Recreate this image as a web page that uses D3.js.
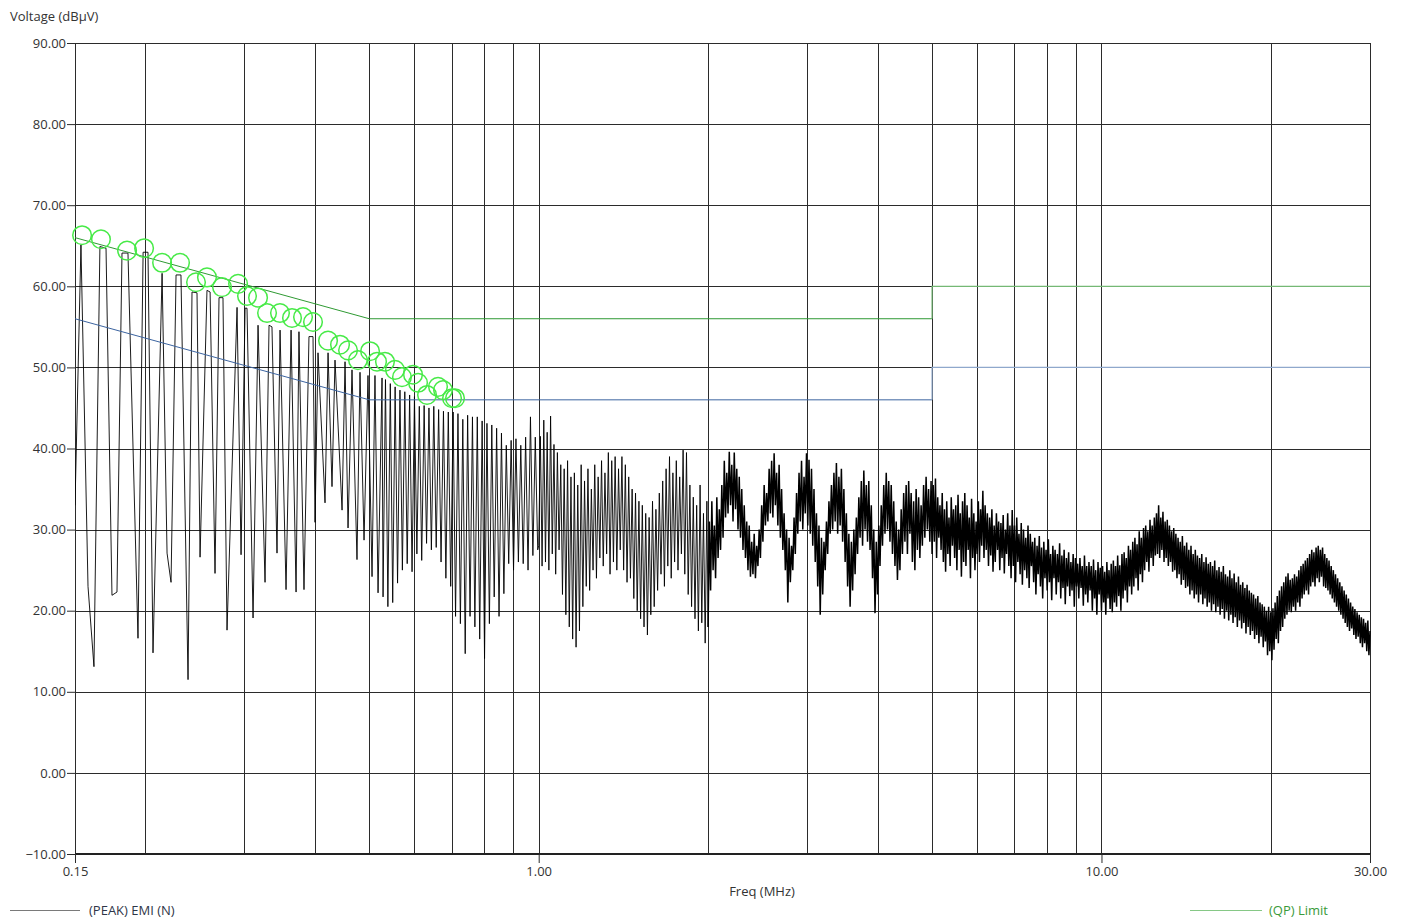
<!DOCTYPE html>
<html>
<head>
<meta charset="utf-8">
<script src="https://cdn.jsdelivr.net/npm/d3@7"></script>
<style>
  html, body { margin: 0; padding: 0; background: #fff; }
  svg { display: block; font-family: "Open Sans", "Noto Sans", sans-serif; }
</style>
</head>
<body>
<svg id="chart" width="1403" height="921"></svg>
<script>
// ---------- axis definitions ----------
const freqDomain = [0.15, 30];              // MHz
const levelDomain = [-10, 90];              // dBµV
const levelTicks = [-10, 0, 10, 20, 30, 40, 50, 60, 70, 80, 90];
const freqLabelTicks = [0.15, 1, 10, 30];
const freqGridLines = [0.2, 0.3, 0.4, 0.5, 0.6, 0.7, 0.8, 0.9, 1, 2, 3, 4, 5, 6, 7, 8, 9, 10, 20, 30];

// ---------- limit lines (CISPR class B, conducted) ----------
const limitFreqs   = [0.15, 0.5, 5, 5, 30];
const qpLimitLevels = [66, 56, 56, 60, 60];
const avLimitLevels = [56, 46, 46, 50, 50];

// ---------- quasi-peak measurement markers ----------
const qpFreqs = [0.1544, 0.1668, 0.1856, 0.1990, 0.2142, 0.2305, 0.2461, 0.2574, 0.2737, 0.2923,
                 0.3032, 0.3172, 0.3291, 0.3470, 0.3645, 0.3813, 0.3972, 0.4224, 0.4436, 0.4584,
                 0.4774, 0.5016, 0.5161, 0.5332, 0.5555, 0.5716, 0.5980, 0.6104, 0.6333, 0.6624,
                 0.6761, 0.7015, 0.7101];
const qpLevels = [66.3, 65.8, 64.4, 64.7, 62.9, 62.9, 60.5, 61.1, 59.9, 60.3,
                  58.8, 58.6, 56.7, 56.7, 56.1, 56.2, 55.6, 53.3, 52.8, 52.1,
                  50.9, 52.0, 50.7, 50.7, 49.7, 48.8, 49.1, 48.1, 46.6, 47.6,
                  47.2, 46.2, 46.2];

// ---------- peak EMI trace ----------
// Low band: individual switching harmonics (frequency / level pairs)
const harmonicFreqs = [0.1500, 0.1537, 0.1582, 0.1621, 0.1661, 0.1703, 0.1745, 0.1781, 0.1818, 0.1863,
                       0.1941, 0.1982, 0.2022, 0.2064, 0.2142, 0.2186, 0.2222, 0.2268, 0.2314, 0.2382,
                       0.2421, 0.2471, 0.2502, 0.2574, 0.2607, 0.2660, 0.2704, 0.2748, 0.2794, 0.2911,
                       0.2959, 0.3008, 0.3032, 0.3108, 0.3172, 0.3264, 0.3318, 0.3358, 0.3428, 0.3471,
                       0.3557, 0.3631, 0.3706, 0.3750, 0.3828, 0.3907, 0.3972, 0.4005, 0.4054, 0.4172,
                       0.4224, 0.4293, 0.4346, 0.4473, 0.4528, 0.4584, 0.4659, 0.4755, 0.4814, 0.4894,
                       0.4974, 0.5057, 0.5118, 0.5183, 0.5268];
const harmonicLevels = [33.0, 65.1, 23.0, 13.1, 64.9, 64.7, 21.9, 22.3, 64.1, 64.1,
                        16.6, 64.2, 64.2, 14.8, 61.6, 27.1, 23.5, 61.4, 61.4, 11.5,
                        59.3, 59.2, 26.6, 59.5, 59.3, 24.6, 58.6, 58.6, 17.6, 57.4,
                        26.9, 57.3, 57.3, 19.1, 55.2, 23.5, 55.2, 55.0, 27.1, 54.6,
                        22.6, 54.6, 22.3, 54.4, 22.6, 53.8, 53.8, 30.9, 51.8, 33.3,
                        51.8, 35.3, 50.9, 32.4, 50.7, 30.2, 49.7, 26.3, 49.4, 28.7,
                        49.0, 24.2, 49.0, 22.2, 48.7];

// Swept sections: start/stop frequency (MHz) and the levels recorded across each sweep
const sweep1Range = [0.529, 0.996];
const sweep1Levels = [
  21.7, 48.5, 20.5, 48.0, 21.0, 47.6, 23.4, 47.2, 25.0, 47.0,
  25.8, 46.6, 24.8, 46.4, 27.0, 45.2, 26.2, 45.3, 28.3, 45.0,
  27.5, 45.2, 27.8, 44.8, 26.0, 44.6, 24.0, 44.5, 23.0, 44.5,
  19.3, 44.3, 18.4, 43.6, 14.7, 44.1, 19.3, 43.9, 18.0, 43.9,
  16.5, 43.4, 14.1, 43.1, 18.4, 42.9, 21.7, 42.5, 19.3, 41.9,
  22.1, 40.4, 25.8, 41.0, 25.0, 41.2, 26.0, 40.4, 25.8, 41.4,
  25.0, 43.9, 26.8, 41.4, 27.5];

const sweep2Range = [1.0, 1.99];
const sweep2Levels = [
  28.0, 41.5, 25.5, 43.5, 26.0, 42.0, 25.0, 44.0, 27.0, 40.5,
  24.5, 39.5, 27.5, 38.0, 22.0, 37.5, 19.5, 38.5, 18.0, 36.5,
  16.5, 37.0, 15.5, 35.5, 17.5, 38.0, 20.5, 36.0, 23.0, 37.5,
  22.5, 35.0, 25.0, 38.0, 24.0, 36.5, 26.5, 38.5, 25.5, 37.0,
  27.0, 39.5, 24.5, 38.5, 26.0, 39.0, 25.0, 37.5, 27.5, 39.0,
  25.0, 38.0, 23.5, 36.5, 24.0, 35.0, 21.5, 34.5, 20.0, 33.5,
  19.0, 33.0, 18.0, 32.0, 17.0, 31.5, 19.5, 33.5, 20.5, 32.5,
  22.5, 34.5, 24.5, 36.0, 23.0, 37.5, 25.5, 39.0, 24.0, 37.0,
  26.0, 38.5, 25.0, 36.5, 27.0, 39.8, 24.5, 39.5, 22.0, 35.5,
  20.5, 34.0, 19.0, 33.0, 17.5, 35.5, 18.5, 32.0, 16.0, 33.5];

const sweep3Range = [2.0, 4.98];
const sweep3Levels = [
  18.0, 31.0, 22.5, 33.5, 25.0, 30.5, 24.0, 34.0, 26.5, 32.5,
  27.5, 35.5, 29.0, 38.5, 31.5, 37.0, 32.0, 39.6, 33.0, 38.0,
  31.0, 39.5, 32.5, 37.5, 30.0, 36.5, 29.0, 35.0, 27.5, 33.0,
  26.5, 31.0, 25.0, 30.5, 24.2, 28.5, 24.5, 29.5, 24.0, 28.0,
  25.5, 30.0, 26.5, 33.0, 28.5, 35.5, 30.5, 34.5, 31.0, 37.5,
  32.0, 38.5, 31.5, 39.4, 33.0, 37.0, 30.5, 38.0, 29.0, 35.0,
  27.5, 32.0, 25.0, 30.0, 21.0, 29.0, 23.5, 28.0, 25.0, 31.5,
  27.0, 34.5, 29.5, 37.0, 31.0, 38.5, 30.0, 36.5, 32.0, 39.4,
  30.5, 38.6, 29.5, 37.5, 28.0, 35.0, 26.0, 32.0, 23.0, 30.5,
  19.5, 29.0, 22.0, 28.5, 25.0, 31.0, 27.0, 33.5, 29.5, 35.5,
  30.0, 37.0, 31.0, 38.2, 29.5, 36.5, 30.5, 37.5, 28.5, 35.0,
  26.0, 32.0, 23.0, 29.5, 20.5, 28.5, 22.5, 30.0, 24.5, 31.5,
  27.0, 34.0, 29.0, 36.0, 28.0, 37.3, 30.0, 35.5, 28.5, 36.0,
  27.5, 33.0, 24.0, 30.0, 19.7, 28.5, 22.0, 30.5, 25.5, 33.0,
  28.0, 35.5, 29.5, 37.0, 30.0, 36.0, 28.5, 35.5, 27.0, 33.5,
  25.5, 31.0, 23.8, 30.0, 25.0, 32.5, 27.0, 34.5, 28.5, 35.5,
  27.0, 36.0, 29.5, 34.5, 26.0, 33.5, 25.0, 35.0, 27.5, 34.0,
  26.5, 33.0, 28.0, 35.5, 29.0, 36.5, 30.0, 35.0, 28.5, 36.0];

const sweep4Range = [5.0, 9.95];
const sweep4Levels = [
  27.0, 35.5, 28.5, 36.3, 26.5, 34.0, 29.0, 33.0, 27.5, 34.5,
  26.0, 32.5, 24.8, 33.5, 27.0, 31.5, 25.5, 34.0, 28.0, 32.5,
  26.5, 33.0, 25.0, 34.3, 27.5, 32.0, 24.2, 33.5, 26.0, 34.5,
  25.5, 33.0, 27.5, 31.5, 24.0, 33.8, 26.5, 32.0, 25.0, 31.0,
  27.0, 33.5, 26.0, 32.5, 28.0, 34.8, 26.5, 33.0, 27.5, 32.0,
  25.5, 31.5, 26.8, 32.5, 24.8, 30.5, 26.0, 32.0, 27.5, 31.0,
  25.0, 30.8, 26.5, 31.8, 24.6, 30.0, 27.0, 32.0, 25.5, 30.5,
  24.0, 32.4, 25.5, 30.5, 23.5, 31.5, 26.0, 29.5, 24.5, 30.8,
  23.2, 30.0, 25.0, 29.0, 24.0, 30.5, 22.8, 29.5, 25.5, 28.5,
  23.5, 29.0, 22.0, 28.0, 24.5, 29.2, 23.0, 27.8, 21.5, 28.5,
  24.0, 27.5, 22.5, 28.8, 23.5, 27.0, 21.3, 28.0, 24.0, 27.5,
  22.0, 27.0, 23.5, 28.3, 21.5, 26.8, 22.8, 27.5, 20.8, 26.5,
  23.0, 27.2, 21.8, 26.0, 22.5, 27.0, 20.5, 26.5, 23.0, 25.8,
  21.5, 26.5, 22.8, 25.5, 20.6, 26.8, 22.0, 25.5, 21.0, 26.0,
  22.5, 25.5, 20.0, 26.3, 21.5, 25.0, 19.5, 26.0, 22.0, 25.3];

const sweep5Range = [10.0, 30.0];
const sweep5Levels = [
  20.0, 25.5, 21.0, 24.8, 19.5, 26.0, 21.5, 25.0, 20.2, 25.8,
  19.8, 26.2, 21.0, 25.5, 20.5, 26.8, 21.8, 25.6, 20.0, 27.0,
  21.5, 27.2, 22.5, 26.5, 21.0, 28.0, 23.0, 27.5, 22.0, 28.5,
  23.0, 29.0, 24.0, 28.2, 22.5, 29.8, 24.5, 29.0, 23.5, 30.2,
  25.0, 30.5, 26.0, 29.8, 24.8, 31.2, 26.5, 30.5, 25.5, 31.5,
  26.8, 32.0, 27.0, 33.0, 26.5, 31.5, 27.5, 32.2, 26.0, 31.0,
  26.5, 31.2, 25.5, 30.5, 26.0, 29.8, 24.8, 30.2, 25.0, 29.5,
  24.0, 29.0, 24.5, 28.5, 23.2, 29.2, 23.8, 28.0, 22.8, 28.4,
  23.0, 27.5, 22.0, 28.0, 22.5, 27.0, 21.5, 27.5, 22.0, 26.8,
  21.0, 26.5, 22.0, 27.0, 20.8, 26.0, 21.5, 26.6, 20.5, 25.8,
  21.0, 26.0, 20.0, 25.5, 20.8, 26.2, 19.8, 25.0, 20.5, 25.4,
  19.5, 24.8, 20.2, 25.5, 19.0, 24.5, 20.0, 24.2, 18.8, 25.0,
  19.5, 24.0, 18.5, 24.6, 19.2, 23.5, 18.0, 24.2, 18.8, 23.2,
  17.8, 23.5, 18.5, 22.8, 17.2, 23.2, 18.0, 22.5, 17.0, 22.2,
  17.5, 22.0, 16.5, 21.5, 17.0, 21.8, 16.0, 21.0, 16.8, 20.8,
  15.5, 20.5, 16.2, 20.0, 14.5, 20.5, 15.0, 19.8, 13.9, 20.3,
  15.2, 21.0, 16.5, 21.8, 16.0, 22.5, 17.5, 23.0, 18.0, 23.5,
  19.0, 24.2, 19.5, 24.6, 20.0, 23.8, 19.8, 24.0, 20.5, 24.5,
  20.0, 24.2, 21.0, 25.0, 20.5, 25.5, 21.5, 25.8, 22.0, 26.2,
  22.5, 26.5, 22.0, 27.0, 23.0, 27.5, 23.5, 27.2, 23.0, 27.8,
  24.0, 28.0, 23.5, 27.5, 24.2, 27.8, 23.0, 27.0, 22.8, 26.5,
  22.5, 26.2, 22.0, 25.5, 21.5, 25.0, 21.0, 24.5, 20.5, 24.0,
  20.0, 23.5, 19.5, 23.0, 19.0, 22.5, 18.5, 22.0, 18.0, 21.5,
  17.5, 21.0, 17.8, 20.5, 17.0, 20.2, 16.5, 19.8, 16.8, 19.5,
  16.0, 19.2, 15.5, 19.0, 16.0, 18.5, 15.0, 18.8, 14.5, 17.5];

// ---------- layout ----------
const svg = d3.select("#chart");
const plot = { left: 75, right: 1370, top: 43, bottom: 854 };

const x = d3.scaleLog().domain(freqDomain).range([plot.left, plot.right]);
const y = d3.scaleLinear().domain(levelDomain).range([plot.bottom, plot.top]);
const crisp = v => Math.round(v) + 0.5;

const textColor = "#333";
const fontSize = 13;

// clip region for data
svg.append("defs").append("clipPath").attr("id", "plotClip")
  .append("rect")
  .attr("x", plot.left).attr("y", plot.top - 12)
  .attr("width", plot.right - plot.left + 1)
  .attr("height", plot.bottom - plot.top + 12);

// ---------- grid ----------
const grid = svg.append("g").attr("class", "grid");
grid.selectAll("line.hgrid")
  .data(levelTicks.filter(v => v !== levelDomain[0]))
  .join("line")
  .attr("x1", plot.left).attr("x2", plot.right + 0.5)
  .attr("y1", d => crisp(y(d))).attr("y2", d => crisp(y(d)))
  .attr("stroke", "#2b2b2b").attr("stroke-width", 1);

grid.selectAll("line.vgrid")
  .data(freqGridLines)
  .join("line")
  .attr("x1", d => crisp(x(d))).attr("x2", d => crisp(x(d)))
  .attr("y1", plot.top).attr("y2", plot.bottom)
  .attr("stroke", "#2b2b2b").attr("stroke-width", 1);

// ---------- axes ----------
const yAxis = d3.axisLeft(y)
  .tickValues(levelTicks)
  .tickFormat(d3.format(".2f"))
  .tickSize(8)
  .tickPadding(1);
const yAxisG = svg.append("g")
  .attr("transform", `translate(${crisp(plot.left) - 0.5},0)`)
  .call(yAxis);
yAxisG.select(".domain").attr("stroke", "#2b2b2b");
yAxisG.selectAll(".tick line").attr("stroke", "#2b2b2b");
yAxisG.selectAll(".tick text")
  .attr("fill", textColor).attr("font-size", fontSize)
  .attr("font-family", "'Open Sans', sans-serif");

const xAxis = d3.axisBottom(x)
  .tickValues(freqLabelTicks)
  .tickFormat(d3.format(".2f"))
  .tickSize(9)
  .tickPadding(4);
const xAxisG = svg.append("g")
  .attr("transform", `translate(0,${plot.bottom})`)
  .call(xAxis);
xAxisG.select(".domain").attr("stroke", "#222").attr("stroke-width", 2)
  .attr("d", `M${plot.left},0H${plot.right + 1}`);
xAxisG.selectAll(".tick line").attr("stroke", "#2b2b2b");
xAxisG.selectAll(".tick text")
  .attr("fill", textColor).attr("font-size", fontSize)
  .attr("font-family", "'Open Sans', sans-serif");

// axis titles
svg.append("text")
  .attr("x", 10).attr("y", 21)
  .attr("fill", textColor).attr("font-size", fontSize)
  .text("Voltage (dBµV)");
svg.append("text")
  .attr("x", 762).attr("y", 896)
  .attr("text-anchor", "middle")
  .attr("fill", textColor).attr("font-size", fontSize)
  .text("Freq (MHz)");

// ---------- trace ----------
function sweepPoints(range, levels) {
  const a = Math.log10(range[0]), b = Math.log10(range[1]);
  const n = levels.length;
  return levels.map((v, i) => [Math.pow(10, a + (b - a) * i / (n - 1)), v]);
}

// discrete harmonics and the first sweeps: thin strokes
const lowBand = harmonicFreqs.map((f, i) => [f, harmonicLevels[i]])
  .concat(sweepPoints(sweep1Range, sweep1Levels))
  .concat(sweepPoints(sweep2Range, sweep2Levels));
// dense broadband noise above 2 MHz: heavier stroke so the band fills in
const highBand = sweepPoints(sweep3Range, sweep3Levels)
  .concat(sweepPoints(sweep4Range, sweep4Levels))
  .concat(sweepPoints(sweep5Range, sweep5Levels));

const line = d3.line().x(d => x(d[0])).y(d => y(d[1]));

const traceG = svg.append("g").attr("clip-path", "url(#plotClip)");
traceG.append("path")
  .datum(lowBand.concat([highBand[0]]))
  .attr("d", line)
  .attr("fill", "none")
  .attr("stroke", "#000")
  .attr("stroke-width", 0.9)
  .attr("stroke-linejoin", "miter")
  .attr("stroke-miterlimit", 2);
traceG.append("path")
  .datum(highBand)
  .attr("d", line)
  .attr("fill", "none")
  .attr("stroke", "#000")
  .attr("stroke-width", 1.5)
  .attr("stroke-linejoin", "miter")
  .attr("stroke-miterlimit", 2);

// ---------- limit lines ----------
function limitSegments(levels, color, lightColor) {
  const pts = limitFreqs.map((f, i) => [f, levels[i]]);
  svg.append("path")
    .datum(pts.slice(0, 3))
    .attr("d", line)
    .attr("fill", "none").attr("stroke", color).attr("stroke-width", 1);
  svg.append("path")
    .datum(pts.slice(2))
    .attr("d", d => line(d.map(p => [p[0], p[1]])))
    .attr("fill", "none").attr("stroke", lightColor).attr("stroke-width", 1.2);
}
limitSegments(qpLimitLevels, "#2f9a33", "#74b874");
limitSegments(avLimitLevels, "#3c64a0", "#8fa8cc");

// ---------- quasi-peak markers ----------
svg.append("g")
  .selectAll("circle")
  .data(qpFreqs.map((f, i) => [f, qpLevels[i]]))
  .join("circle")
  .attr("cx", d => x(d[0]))
  .attr("cy", d => y(d[1]))
  .attr("r", 9.3)
  .attr("fill", "none")
  .attr("stroke", "#47ea47")
  .attr("stroke-width", 1.5);

// ---------- legend ----------
const legend = svg.append("g");
legend.append("line")
  .attr("x1", 10).attr("x2", 80).attr("y1", 910.5).attr("y2", 910.5)
  .attr("stroke", "#7a7a7a").attr("stroke-width", 1.2);
legend.append("text")
  .attr("x", 89).attr("y", 915)
  .attr("fill", "#2e3648").attr("font-size", fontSize)
  .text("(PEAK) EMI (N)");
legend.append("line")
  .attr("x1", 1190).attr("x2", 1262).attr("y1", 910.5).attr("y2", 910.5)
  .attr("stroke", "#86c886").attr("stroke-width", 1.2);
legend.append("text")
  .attr("x", 1269).attr("y", 915)
  .attr("fill", "#3a9a3a").attr("font-size", fontSize)
  .text("(QP) Limit");
</script>
</body>
</html>
